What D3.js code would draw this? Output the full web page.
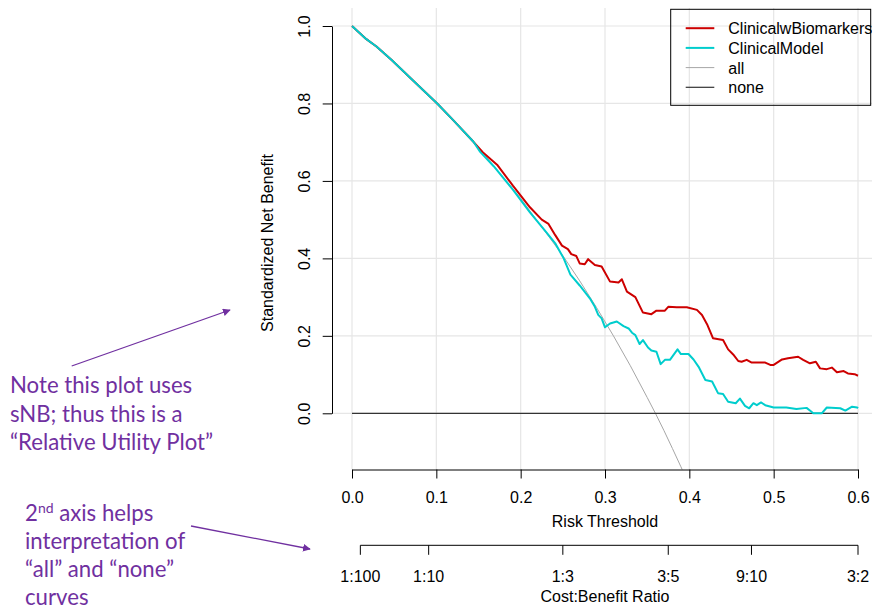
<!DOCTYPE html>
<html>
<head>
<meta charset="utf-8">
<script src="https://cdn.jsdelivr.net/npm/d3@7"></script>
<style>
  body { margin: 0; background: #ffffff; }
  svg { display: block; }
</style>
</head>
<body>
<svg id="chart" width="872" height="612"></svg>
<script>
// ---- data ----------------------------------------------------------------
const xTicks = [0, 0.1, 0.2, 0.3, 0.4, 0.5, 0.6];
const yTicks = [0, 0.2, 0.4, 0.6, 0.8, 1.0];
const costBenefitLabels = ["1:100", "1:10", "1:3", "3:5", "9:10", "3:2"];
const seriesNames = ["ClinicalwBiomarkers", "ClinicalModel", "all", "none"];

// [risk threshold, standardized net benefit]
const clinicalwBiomarkers = [
  [0, 1.0], [0.017, 0.966], [0.029, 0.947], [0.047, 0.912], [0.073, 0.858],
  [0.101, 0.800], [0.120, 0.757], [0.144, 0.701], [0.155, 0.674], [0.172, 0.642],
  [0.191, 0.587], [0.211, 0.532], [0.225, 0.500], [0.233, 0.489], [0.241, 0.460],
  [0.249, 0.433], [0.256, 0.424], [0.260, 0.411], [0.266, 0.406], [0.270, 0.387],
  [0.276, 0.385], [0.280, 0.398], [0.288, 0.383], [0.296, 0.379], [0.306, 0.340],
  [0.316, 0.338], [0.320, 0.346], [0.326, 0.314], [0.336, 0.300], [0.345, 0.260],
  [0.355, 0.256], [0.361, 0.265], [0.371, 0.265], [0.375, 0.275], [0.385, 0.274],
  [0.397, 0.274], [0.409, 0.267], [0.415, 0.254], [0.421, 0.230], [0.428, 0.194],
  [0.440, 0.189], [0.446, 0.165], [0.452, 0.152], [0.458, 0.135], [0.462, 0.133],
  [0.468, 0.138], [0.474, 0.131], [0.490, 0.131], [0.496, 0.125], [0.500, 0.125],
  [0.510, 0.139], [0.517, 0.142], [0.529, 0.146], [0.535, 0.138], [0.543, 0.129],
  [0.550, 0.133], [0.555, 0.116], [0.563, 0.114], [0.569, 0.118], [0.575, 0.106],
  [0.583, 0.109], [0.588, 0.103], [0.596, 0.101], [0.600, 0.097]
];

const clinicalModel = [
  [0, 1.0], [0.017, 0.966], [0.029, 0.947], [0.047, 0.912], [0.073, 0.858],
  [0.101, 0.800], [0.120, 0.757], [0.144, 0.701], [0.152, 0.675], [0.168, 0.638],
  [0.191, 0.577], [0.211, 0.519], [0.231, 0.466], [0.241, 0.439], [0.251, 0.400],
  [0.259, 0.358], [0.270, 0.330], [0.282, 0.297], [0.288, 0.275], [0.292, 0.254],
  [0.296, 0.245], [0.300, 0.222], [0.306, 0.232], [0.314, 0.237], [0.322, 0.225],
  [0.328, 0.219], [0.332, 0.208], [0.336, 0.202], [0.341, 0.179], [0.345, 0.189],
  [0.351, 0.170], [0.355, 0.162], [0.361, 0.159], [0.366, 0.127], [0.371, 0.138],
  [0.377, 0.138], [0.386, 0.165], [0.390, 0.153], [0.399, 0.153], [0.405, 0.139],
  [0.411, 0.120], [0.419, 0.086], [0.427, 0.082], [0.434, 0.052], [0.440, 0.050],
  [0.446, 0.030], [0.455, 0.026], [0.460, 0.038], [0.466, 0.019], [0.471, 0.013],
  [0.476, 0.026], [0.480, 0.021], [0.485, 0.028], [0.490, 0.021], [0.500, 0.015],
  [0.515, 0.015], [0.527, 0.011], [0.539, 0.014], [0.543, 0.007], [0.547, 0.0],
  [0.557, 0.0], [0.563, 0.015], [0.579, 0.013], [0.585, 0.007], [0.593, 0.017],
  [0.599, 0.015], [0.600, 0.013]
];

const treatAll = [
  [0, 1.0], [0.05, 0.906], [0.10, 0.802], [0.15, 0.686], [0.20, 0.555],
  [0.25, 0.407], [0.27, 0.342], [0.29, 0.273], [0.31, 0.200], [0.33, 0.123],
  [0.35, 0.041], [0.36, -0.001], [0.37, -0.045], [0.38, -0.091], [0.39, -0.138],
  [0.395, -0.162]
];

const treatNone = [[0, 0], [0.6, 0]];

// ---- layout --------------------------------------------------------------
const W = 872, H = 612;
const plot = { left: 332, right: 878, top: 8, bottom: 469.5 };
const font = "'Liberation Sans', Arial, sans-serif";
const fs = 16;
const purple = "#7030A0";

const x = d3.scaleLinear().domain([0, 0.6]).range([352, 858]);
const y = d3.scaleLinear().domain([0, 1]).range([413.3, 26]);

const svg = d3.select("#chart");

svg.append("defs").append("clipPath").attr("id", "plotClip")
  .append("rect")
  .attr("x", plot.left).attr("y", plot.top)
  .attr("width", plot.right - plot.left).attr("height", plot.bottom - plot.top);

svg.select("defs").append("marker")
  .attr("id", "arrowHead")
  .attr("viewBox", "0 0 10 10")
  .attr("refX", 9).attr("refY", 5)
  .attr("markerWidth", 6).attr("markerHeight", 6)
  .attr("markerUnits", "strokeWidth")
  .attr("orient", "auto")
  .append("path").attr("d", "M0,0 L10,5 L0,10 z").attr("fill", purple);

// ---- grid ----------------------------------------------------------------
const grid = svg.append("g").attr("stroke", "#e6e6e6").attr("stroke-width", 1.2);
grid.selectAll("line.v").data(xTicks).join("line")
  .attr("class", "v")
  .attr("x1", d => x(d)).attr("x2", d => x(d))
  .attr("y1", plot.top).attr("y2", plot.bottom);
grid.selectAll("line.h").data(yTicks).join("line")
  .attr("class", "h")
  .attr("x1", plot.left).attr("x2", W)
  .attr("y1", d => y(d)).attr("y2", d => y(d));

// ---- curves --------------------------------------------------------------
const line = d3.line().x(d => x(d[0])).y(d => y(d[1]));
const curves = svg.append("g").attr("clip-path", "url(#plotClip)").attr("fill", "none");

curves.append("path").datum(treatAll)
  .attr("d", line).attr("stroke", "#a6a6a6").attr("stroke-width", 1);
curves.append("path").datum(treatNone)
  .attr("d", line).attr("stroke", "#333333").attr("stroke-width", 1.2);
curves.append("path").datum(clinicalwBiomarkers)
  .attr("d", line).attr("stroke", "#CD0000").attr("stroke-width", 2)
  .attr("stroke-linejoin", "round");
curves.append("path").datum(clinicalModel)
  .attr("d", line).attr("stroke", "#00CDCD").attr("stroke-width", 2)
  .attr("stroke-linejoin", "round");

// ---- axes ----------------------------------------------------------------
function styleAxis(g) {
  g.attr("font-family", font).attr("font-size", fs);
  g.selectAll("path.domain").attr("stroke", "#000");
  g.selectAll(".tick line").attr("stroke", "#000");
  g.selectAll(".tick text").attr("fill", "#000");
}

svg.append("g")
  .attr("transform", `translate(0,${plot.bottom})`)
  .call(d3.axisBottom(x).tickValues(xTicks).tickFormat(d3.format(".1f"))
    .tickSize(9).tickSizeOuter(0).tickPadding(13.5))
  .call(styleAxis);

const yAxis = svg.append("g")
  .attr("transform", `translate(${plot.left},0)`)
  .call(d3.axisLeft(y).tickValues(yTicks).tickFormat(d3.format(".1f"))
    .tickSize(9.3).tickSizeOuter(0))
  .call(styleAxis);
yAxis.selectAll(".tick text")
  .attr("x", null).attr("dy", null)
  .attr("text-anchor", "middle")
  .attr("transform", "translate(-22,0) rotate(-90)");

svg.append("text")
  .attr("x", (plot.left + plot.right) / 2).attr("y", 527)
  .attr("text-anchor", "middle")
  .attr("font-family", font).attr("font-size", fs)
  .text("Risk Threshold");

svg.append("text")
  .attr("transform", "translate(272.7,243) rotate(-90)")
  .attr("text-anchor", "middle")
  .attr("font-family", font).attr("font-size", fs)
  .text("Standardized Net Benefit");

// second axis: cost:benefit ratio c:b sits at threshold c/(c+b)
const ratioThreshold = s => { const [c, b] = s.split(":").map(Number); return c / (c + b); };
const cbAxisY = 545.3;
const cbAxis = svg.append("g").attr("font-family", font).attr("font-size", fs);
cbAxis.append("line")
  .attr("x1", x(ratioThreshold(costBenefitLabels[0])))
  .attr("x2", x(ratioThreshold(costBenefitLabels[costBenefitLabels.length - 1])))
  .attr("y1", cbAxisY).attr("y2", cbAxisY)
  .attr("stroke", "#000");
const cbTick = cbAxis.selectAll("g.tick").data(costBenefitLabels).join("g")
  .attr("class", "tick")
  .attr("transform", d => `translate(${x(ratioThreshold(d))},${cbAxisY})`);
cbTick.append("line").attr("y2", 9.5).attr("stroke", "#000");
cbTick.append("text").attr("y", 36.4).attr("text-anchor", "middle").text(d => d);
svg.append("text")
  .attr("x", (plot.left + plot.right) / 2).attr("y", 602)
  .attr("text-anchor", "middle")
  .attr("font-family", font).attr("font-size", fs)
  .text("Cost:Benefit Ratio");

// ---- legend --------------------------------------------------------------
const legendStyles = [
  { stroke: "#CD0000", width: 2 },
  { stroke: "#00CDCD", width: 2 },
  { stroke: "#a6a6a6", width: 1 },
  { stroke: "#333333", width: 1.2 }
];
const legend = svg.append("g").attr("font-family", font).attr("font-size", fs);
legend.append("rect")
  .attr("x", 670.7).attr("y", 9.3).attr("width", 200).attr("height", 96)
  .attr("fill", "none").attr("stroke", "#000").attr("stroke-width", 1);
const items = legend.selectAll("g.item").data(seriesNames).join("g")
  .attr("class", "item")
  .attr("transform", (d, i) => `translate(0,${28.2 + i * 19.7})`);
items.append("line")
  .attr("x1", 685.7).attr("x2", 714.3)
  .attr("stroke", (d, i) => legendStyles[i].stroke)
  .attr("stroke-width", (d, i) => legendStyles[i].width);
items.append("text").attr("x", 728.3).attr("y", 6).text(d => d);

// ---- annotations ---------------------------------------------------------
const note = svg.append("g")
  .attr("font-family", "Lato, 'Open Sans', sans-serif")
  .attr("font-size", 22.2).attr("fill", purple);
const noteLines = ["Note this plot uses", "sNB; thus this is a", "\u201CRelative Utility Plot\u201D"];
note.selectAll("text.n1").data(noteLines).join("text")
  .attr("class", "n1")
  .attr("x", 10).attr("y", (d, i) => 393 + i * 28.5)
  .text(d => d);

const axisNote = note.append("text").attr("x", 25).attr("y", 521);
axisNote.append("tspan").text("2");
axisNote.append("tspan").attr("font-size", 14).attr("dy", -8).text("nd");
axisNote.append("tspan").attr("dy", 8).text(" axis helps");
const axisNoteRest = ["interpretation of", "\u201Call\u201D and \u201Cnone\u201D", "curves"];
note.selectAll("text.n2").data(axisNoteRest).join("text")
  .attr("class", "n2")
  .attr("x", 25).attr("y", (d, i) => 549 + i * 28)
  .text(d => d);

const arrows = svg.append("g").attr("stroke", purple).attr("stroke-width", 1.3)
  .attr("marker-end", "url(#arrowHead)");
arrows.append("line").attr("x1", 71.7).attr("y1", 366).attr("x2", 230).attr("y2", 310);
arrows.append("line").attr("x1", 191).attr("y1", 526).attr("x2", 310).attr("y2", 549);
</script>
</body>
</html>
